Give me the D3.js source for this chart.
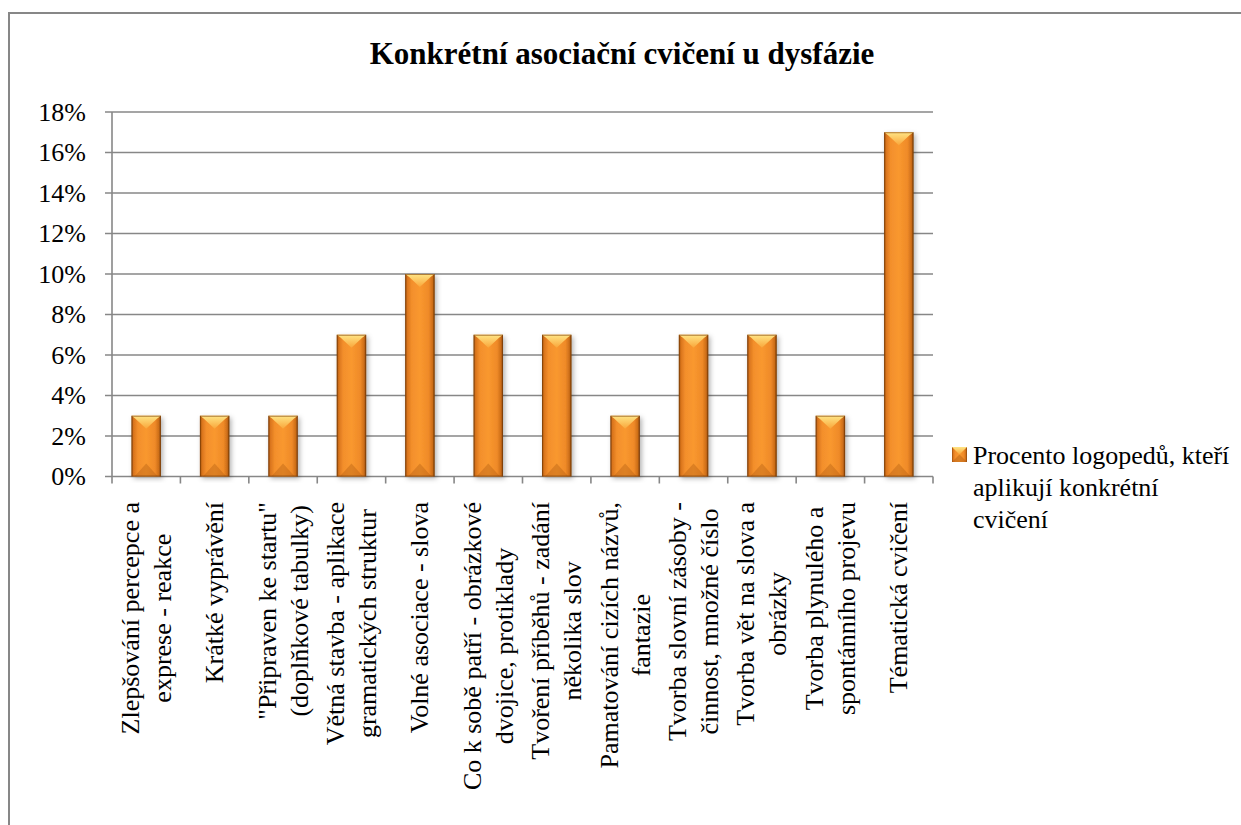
<!DOCTYPE html>
<html>
<head>
<meta charset="utf-8">
<script src="https://cdn.jsdelivr.net/npm/d3@7"></script>
<style>
  body { margin: 0; background: #fff; }
  svg { display: block; font-family: "Liberation Serif", "Times New Roman", serif; }
</style>
</head>
<body>
<svg id="chart" width="1241" height="825"></svg>
<script>
var title = 'Konkrétní asociační cvičení u dysfázie'
var seriesName = ['Procento logopedů, kteří', 'aplikují konkrétní', 'cvičení']

var categories = [
  'Zlepšování percepce a|exprese - reakce',
  'Krátké vyprávění',
  '"Připraven ke startu"|(doplňkové tabulky)',
  'Větná stavba - aplikace|gramatických struktur',
  'Volné asociace - slova',
  'Co k sobě patří - obrázkové|dvojice, protiklady',
  'Tvoření příběhů - zadání|několika slov',
  'Pamatování cizích názvů,|fantazie',
  'Tvorba slovní zásoby -|činnost, množné číslo',
  'Tvorba vět na slova a|obrázky',
  'Tvorba plynulého a|spontánního projevu',
  'Tématická cvičení'
]
var values = [0.03, 0.03, 0.03, 0.07, 0.10, 0.07, 0.07, 0.03, 0.07, 0.07, 0.03, 0.17]
var yTicks = [0, 0.02, 0.04, 0.06, 0.08, 0.10, 0.12, 0.14, 0.16, 0.18]

var svg = d3.select('#chart')
var plotLeft = 112, plotRight = 933, plotTop = 112, plotBottom = 476.5
var grey = '#878787'
var fs = 26

var x = d3.scaleBand()
  .domain(d3.range(categories.length))
  .range([plotLeft, plotRight])
  .paddingInner(0.57)
  .paddingOuter(0.285)

var y = d3.scaleLinear().domain([0, 0.18]).range([plotBottom, plotTop])

// defs: gradients + shadow
var defs = svg.append('defs')
var g1 = defs.append('linearGradient').attr('id', 'barGrad')
  .attr('x1', 0).attr('x2', 1).attr('y1', 0).attr('y2', 0)
;[[0, '#8e470b'], [0.07, '#d9741c'], [0.22, '#f38f2c'], [0.5, '#f9982f'],
  [0.8, '#ef8a28'], [0.93, '#cc6d18'], [1, '#7e3f08']].forEach(function (s) {
  g1.append('stop').attr('offset', s[0]).attr('stop-color', s[1])
})
var g2 = defs.append('linearGradient').attr('id', 'topGrad')
  .attr('x1', 0).attr('x2', 0).attr('y1', 0).attr('y2', 1)
g2.append('stop').attr('offset', 0).attr('stop-color', '#ffe585')
g2.append('stop').attr('offset', 1).attr('stop-color', '#f9a63a')
var f = defs.append('filter').attr('id', 'shadow')
  .attr('x', '-30%').attr('y', '-10%').attr('width', '160%').attr('height', '120%')
f.append('feDropShadow').attr('dx', 2).attr('dy', 2).attr('stdDeviation', 2.5)
  .attr('flood-color', '#000').attr('flood-opacity', 0.3)

// outer frame
svg.append('path')
  .attr('d', 'M9,830 L9,13 L1250,13')
  .attr('fill', 'none').attr('stroke', grey).attr('stroke-width', 2)

// title
svg.append('text')
  .attr('x', 622).attr('y', 64)
  .attr('text-anchor', 'middle')
  .attr('font-size', 31).attr('font-weight', 'bold')
  .text(title)

// gridlines and y labels
svg.append('g').selectAll('line').data(yTicks).enter().append('line')
  .attr('x1', plotLeft - 7).attr('x2', plotRight)
  .attr('y1', function (d) { return y(d) }).attr('y2', function (d) { return y(d) })
  .attr('stroke', grey).attr('stroke-width', 1.6)

svg.append('g').selectAll('text').data(yTicks).enter().append('text')
  .attr('x', 86).attr('y', function (d) { return y(d) + 8.5 })
  .attr('text-anchor', 'end').attr('font-size', fs)
  .text(d3.format('.0%'))

// axes
svg.append('line').attr('x1', plotLeft).attr('x2', plotLeft).attr('y1', plotTop).attr('y2', plotBottom)
  .attr('stroke', grey).attr('stroke-width', 1.6)
svg.append('g').selectAll('line').data(d3.range(categories.length + 1)).enter().append('line')
  .attr('x1', function (i) { return plotLeft + i * x.step() })
  .attr('x2', function (i) { return plotLeft + i * x.step() })
  .attr('y1', plotBottom).attr('y2', plotBottom + 7)
  .attr('stroke', grey).attr('stroke-width', 1.6)

// bars
var bars = svg.append('g').selectAll('g').data(values).enter().append('g')
bars.each(function (d, i) {
  var g = d3.select(this)
  var x0 = x(i), w = x.bandwidth(), x1 = x0 + w, y0 = y(d), y1 = y(0)
  var cx = x0 + w / 2, bev = Math.min(13, (y1 - y0) / 3)
  g.append('rect').attr('x', x0).attr('y', y0).attr('width', w).attr('height', y1 - y0)
    .attr('fill', 'url(#barGrad)').attr('filter', 'url(#shadow)')
  g.append('path')
    .attr('d', 'M' + x0 + ',' + y0 + 'L' + x1 + ',' + y0 + 'L' + (x1 - 4) + ',' + (y0 + 3) +
      'L' + cx + ',' + (y0 + bev) + 'L' + (x0 + 4) + ',' + (y0 + 3) + 'Z')
    .attr('fill', 'url(#topGrad)')
  g.append('path')
    .attr('d', 'M' + (x0 + 3) + ',' + y1 + 'L' + cx + ',' + (y1 - bev) + 'L' + (x1 - 3) + ',' + y1 + 'Z')
    .attr('fill', '#a8560f').attr('opacity', 0.35)
  g.append('rect').attr('x', x0 + 0.5).attr('y', y0 + 0.5).attr('width', w - 1).attr('height', y1 - y0 - 1)
    .attr('fill', 'none').attr('stroke', '#7a3c07').attr('stroke-opacity', 0.6)
})

// category labels (rotated, lines centred on each other, block starts at axis)
var pitch = 32
var labels = svg.append('g').selectAll('g').data(categories).enter().append('g')
  .attr('transform', function (d, i) {
    return 'translate(' + (x(i) + x.bandwidth() / 2) + ',' + 502 + ') rotate(-90)'
  })
labels.each(function (d) {
  var g = d3.select(this)
  var lines = d.split('|')
  var texts = lines.map(function (l, j) {
    return g.append('text')
      .attr('font-size', fs)
      .attr('text-anchor', 'middle')
      .attr('y', (j - (lines.length - 1) / 2) * pitch + 8.5)
      .text(l)
  })
  var maxLen = d3.max(texts, function (t) { return t.node().getComputedTextLength() })
  texts.forEach(function (t) { t.attr('x', -maxLen / 2) })
})

// legend
var lg = svg.append('g')
lg.append('rect').attr('x', 952).attr('y', 447).attr('width', 15).attr('height', 15)
  .attr('fill', 'url(#barGrad)')
lg.append('path').attr('d', 'M952,447L967,447L959.5,454.5Z').attr('fill', 'url(#topGrad)')
lg.append('path').attr('d', 'M952,462L967,462L959.5,454.5Z').attr('fill', '#a8560f').attr('opacity', 0.4)
lg.selectAll('text').data(seriesName).enter().append('text')
  .attr('x', 973).attr('y', function (d, i) { return 464 + i * 32 })
  .attr('font-size', fs)
  .text(function (d) { return d })
</script>
</body>
</html>
